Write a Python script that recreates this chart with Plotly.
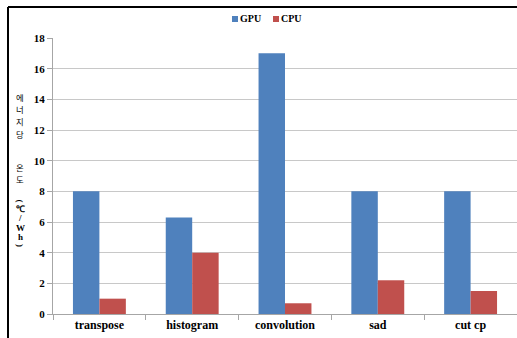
import plotly.graph_objects as go

# Energy-normalised temperature per benchmark
categories = ["transpose", "histogram", "convolution", "sad", "cut cp"]
series_names = ["GPU", "CPU"]
gpu_values = [8.0, 6.3, 17.0, 8.0, 8.0]
cpu_values = [1.0, 4.0, 0.7, 2.2, 1.5]
y_ticks = [0, 2, 4, 6, 8, 10, 12, 14, 16, 18]

# Vertical (stacked) axis title: Korean part, then the unit
title_word1 = ["에", "너", "지", "당"]
title_word2 = ["온", "도"]
title_unit = ["(", "℃", "/", "W", "h", ")"]

SERIF = "Liberation Serif, Times New Roman, serif"
CJK = "Noto Sans CJK KR, sans-serif"
COLORS = ["#4F81BD", "#C0504D"]

fig = go.Figure()
for name, vals, col in zip(series_names, [gpu_values, cpu_values], COLORS):
    fig.add_trace(go.Bar(name=name, x=categories, y=vals, marker_color=col,
                         marker_line_width=0, showlegend=False))

W, H = 517, 338
L, R, T, B = 53, 0, 38, 24
pw, ph = W - L - R, H - T - B


def px_x(px):
    return (px - L) / pw


def px_y(py):
    return (H - B - py) / ph


fig.update_layout(
    width=W, height=H,
    margin=dict(l=L, r=R, t=T, b=B, pad=0),
    paper_bgcolor="white", plot_bgcolor="white",
    barmode="group", bargap=0.43, bargroupgap=0,
    font=dict(family=SERIF, size=11, color="black"),
    showlegend=False,
)

fig.update_xaxes(
    type="category", showgrid=False,
    showline=True, linecolor="#a6a6a6", linewidth=1,
    ticks="outside", tickson="boundaries", ticklen=5, tickcolor="#a6a6a6",
    tickfont=dict(family=SERIF, size=12, color="black", weight="bold"),
)
fig.update_yaxes(
    range=[0, 18], tickvals=y_ticks, ticktext=[str(v) for v in y_ticks],
    showgrid=True, gridcolor="#c8c8c8", gridwidth=1, zeroline=False,
    showline=True, linecolor="#a6a6a6", linewidth=1,
    ticks="outside", ticklen=5, tickcolor="#a6a6a6",
    tickfont=dict(family=SERIF, size=11, color="black", weight="bold"),
)

# Legend: small colour square followed by the series name
legend_x = [232, 273]
for name, col, lx in zip(series_names, COLORS, legend_x):
    fig.add_shape(type="rect", xref="paper", yref="paper",
                  x0=px_x(lx), x1=px_x(lx + 6), y0=px_y(22), y1=px_y(16),
                  fillcolor=col, line_width=0)
    fig.add_annotation(xref="paper", yref="paper", x=px_x(lx + 6), y=px_y(19),
                       xanchor="left", yanchor="middle", showarrow=False,
                       text=name, font=dict(family=SERIF, size=10, color="black",
                                            weight="bold"))

# Axis title, one glyph per line
title_x = px_x(20)
step = 12.2
lines = []
for i, c in enumerate(title_word1):
    lines.append((c, 97 + i * step, CJK, "normal", 0, 8.3))
for i, c in enumerate(title_word2):
    lines.append((c, 167 + i * step, CJK, "normal", 0, 8.3))
unit_y = [200.5, 209, 217.5, 228, 237, 245]
for c, yy in zip(title_unit, unit_y):
    angle = 90 if c in "()" else 0
    lines.append((c, yy, SERIF, "bold", angle, 9))
for c, yy, fam, wt, ang, sz in lines:
    fig.add_annotation(xref="paper", yref="paper", x=title_x, y=px_y(yy),
                       xanchor="center", yanchor="middle", showarrow=False,
                       text=c, textangle=ang, borderpad=0,
                       font=dict(family=fam, size=sz, color="black", weight=wt))

# Outer frame (top and left edges)
fig.add_shape(type="line", xref="paper", yref="paper",
              x0=px_x(8), x1=px_x(W + 2), y0=px_y(7), y1=px_y(7),
              line=dict(color="black", width=2))
fig.add_shape(type="line", xref="paper", yref="paper",
              x0=px_x(8), x1=px_x(8), y0=px_y(7), y1=px_y(H + 2),
              line=dict(color="black", width=2))

fig.write_html("out.html")
